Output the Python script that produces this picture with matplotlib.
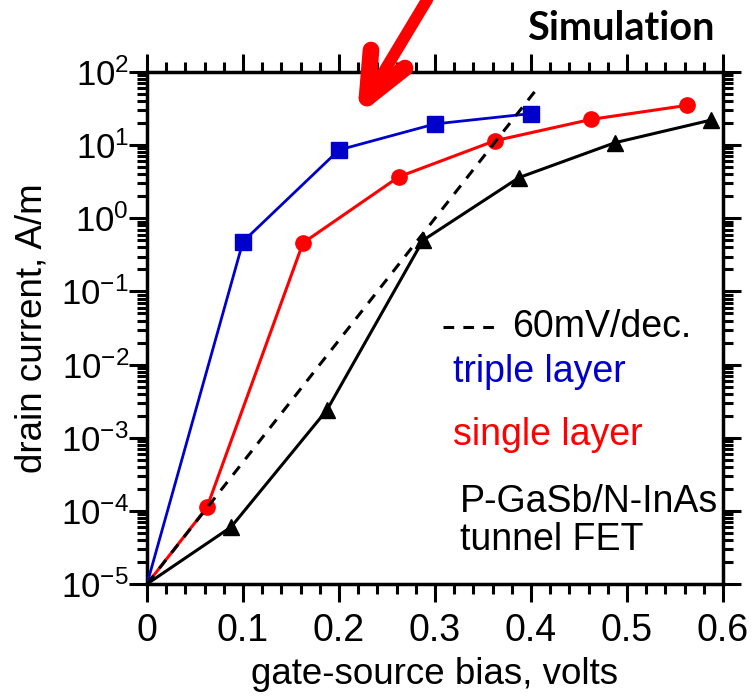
import matplotlib
matplotlib.use("Agg")
import matplotlib.pyplot as plt
from matplotlib.lines import Line2D
from matplotlib.ticker import FixedLocator, LogLocator, MultipleLocator

plt.rcParams['font.family'] = ['Liberation Sans', 'DejaVu Sans']
plt.rcParams['mathtext.fontset'] = 'custom'
plt.rcParams['mathtext.rm'] = 'Liberation Sans'
plt.rcParams['mathtext.it'] = 'Liberation Sans'

# triple layer (blue squares)
triple_v = [0.0, 0.1, 0.2, 0.3, 0.4]
triple_i = [1e-5, 0.48, 8.6, 19.5, 27.0]

# single layer (red circles)
single_v = [0.0, 0.0625, 0.1625, 0.2625, 0.3625, 0.4625, 0.5625]
single_i = [1e-5, 1.12e-4, 0.46, 3.7, 11.5, 22.5, 35.0]

# P-GaSb/N-InAs tunnel FET (black triangles)
tfet_v = [0.0, 0.0875, 0.1875, 0.2875, 0.3875, 0.4875, 0.5875]
tfet_i = [1e-5, 6.0e-5, 2.4e-3, 0.5, 3.6, 10.8, 22.0]

# 60 mV/dec reference line
ref_v = [0.0, 0.405]
ref_i = [1e-5, 1e-5 * 10 ** (0.405 / 0.06)]

ytick_vals = [1e-5, 1e-4, 1e-3, 1e-2, 1e-1, 1e0, 1e1, 1e2]
ytick_labels = [r'$\mathregular{10^{-5}}$', r'$\mathregular{10^{-4}}$',
                r'$\mathregular{10^{-3}}$', r'$\mathregular{10^{-2}}$',
                r'$\mathregular{10^{-1}}$', r'$\mathregular{10^{0}}$',
                r'$\mathregular{10^{1}}$', r'$\mathregular{10^{2}}$']
xtick_vals = [0, 0.1, 0.2, 0.3, 0.4, 0.5, 0.6]
xtick_labels = ['0', '0.1', '0.2', '0.3', '0.4', '0.5', '0.6']

W, H = 754, 696
fig = plt.figure(figsize=(W / 100, H / 100), dpi=100)
ax = fig.add_axes([147 / W, 1 - 584 / H, 576 / W, 512 / H])

blue = '#0000cc'
red = '#ff0000'

ax.plot(triple_v, triple_i, '-', color=blue, lw=2, marker='s', ms=11,
        markevery=list(range(1, len(triple_v))), zorder=3)
ax.plot(single_v, single_i, '-', color=red, lw=2.2, marker='o', ms=11,
        markevery=list(range(1, len(single_v))), zorder=3)
ax.plot(tfet_v, tfet_i, '-', color='black', lw=2.2, marker='^', ms=12,
        markevery=list(range(1, len(tfet_v))), zorder=3)
ax.plot(ref_v, ref_i, color='black', lw=2.2, dashes=(3.5, 3), zorder=4)

ax.set_yscale('log')
ax.set_xlim(0, 0.6)
ax.set_ylim(1e-5, 1e2)
ax.set_xticks(xtick_vals)
ax.set_xticklabels(xtick_labels)
ax.xaxis.set_minor_locator(MultipleLocator(0.02))
ax.yaxis.set_major_locator(FixedLocator(ytick_vals))
ax.set_yticklabels(ytick_labels)
ax.yaxis.set_minor_locator(LogLocator(base=10, subs=range(2, 10), numticks=20))

for s in ax.spines.values():
    s.set_linewidth(2.5)
ax.tick_params(which='both', direction='out', top=True, right=True, width=2.2)
ax.tick_params(which='major', length=13)
ax.tick_params(axis='x', which='major', labelsize=27, pad=8)
ax.tick_params(axis='y', which='major', labelsize=25, pad=0)
ax.tick_params(which='minor', length=7)
ax.tick_params(axis='x', labeltop=False)
ax.tick_params(axis='y', labelright=False)

ax.set_xlabel('gate-source bias, volts', fontsize=26.5, labelpad=6)
ax.set_ylabel('drain current, A/m', fontsize=26.5, labelpad=8)

# legend-style annotations
ax.add_line(Line2D([0.514, 0.609], [0.502, 0.502], transform=ax.transAxes,
                   color='black', lw=2.2, dashes=(3.5, 3)))
ax.text(0.634, 0.502, '60mV/dec.', transform=ax.transAxes, fontsize=27,
        va='center', ha='left')
ax.text(0.531, 0.414, 'triple layer', transform=ax.transAxes, fontsize=27,
        va='center', ha='left', color=blue)
ax.text(0.531, 0.291, 'single layer', transform=ax.transAxes, fontsize=27,
        va='center', ha='left', color=red)
ax.text(0.543, 0.160, 'P-GaSb/N-InAs', transform=ax.transAxes, fontsize=27,
        va='center', ha='left')
ax.text(0.543, 0.086, 'tunnel FET', transform=ax.transAxes, fontsize=27,
        va='center', ha='left')

fig.text(715 / W, 1 - 28 / H, 'Simulation', fontsize=28.5, fontweight='bold',
         family='Lato', ha='right', va='center')

# red arrow pointing at the curves
def fpx(xs, ys):
    return [x / W for x in xs], [1 - y / H for y in ys]

for xs, ys, lw in [([436, 368], [-15, 98], 8.5),
                   ([371, 367], [50, 98], 12),
                   ([405, 367], [68, 98], 12)]:
    fx, fy = fpx(xs, ys)
    fig.add_artist(Line2D(fx, fy, transform=fig.transFigure, color=red,
                          lw=lw, solid_capstyle='round', zorder=10))

fig.savefig('out.png', dpi=100)
